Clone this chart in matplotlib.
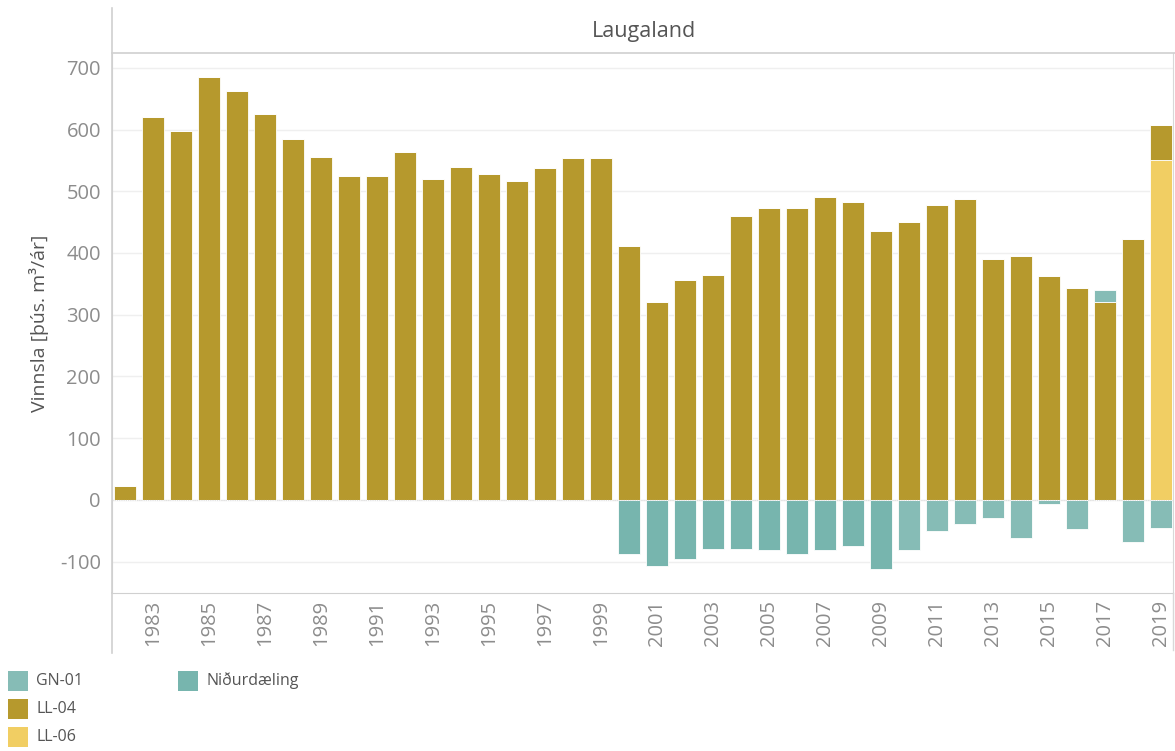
import matplotlib

matplotlib.use("Agg")
import matplotlib.pyplot as plt  # noqa: E402
import numpy as np  # noqa: E402
from matplotlib.lines import Line2D  # noqa: E402
from matplotlib.patches import Rectangle  # noqa: E402

plt.rcParams["font.family"] = ["Open Sans", "DejaVu Sans"]
plt.rcParams["axes.unicode_minus"] = False

years = list(range(1982, 2020))
ll04 = [23, 620, 598, 685, 662, 625, 584, 556, 524, 524,
        563, 520, 540, 528, 517, 538, 554, 554, 411, 320,
        356, 365, 460, 473, 473, 490, 482, 436, 450, 478,
        487, 390, 395, 362, 344, 320, 423, 57]
ll06 = [0] * 37 + [550]
gn01 = [0] * 28 + [-82, -50, -39, -29, -62, -6, -48, 20, -68, -45]
nidurdaeling = [0] * 18 + [-87, -108, -96, -80, -80, -82, -87, -82, -75, -112] + [0] * 10

C_LL04 = "#B6992D"
C_LL06 = "#F1CE63"
C_GN01 = "#86BCB6"
C_NID = "#77B5AE"
GRAY = "#8C8C8C"
DARK = "#555555"

W, H = 1175, 751
x = np.array(years)
ll04 = np.array(ll04)
ll06 = np.array(ll06)
gn01 = np.array(gn01)
nid = np.array(nidurdaeling)

fig = plt.figure(figsize=(W / 100, H / 100), dpi=100)
L, R = 112 / W, 1173 / W
B, T = (H - 593) / H, (H - 53) / H
ax = fig.add_axes([L, B, R - L, T - B])

w = 0.76
kw = dict(width=w, edgecolor="white", linewidth=0.6, zorder=3)
ax.bar(x, ll06, color=C_LL06, **kw)
ax.bar(x, ll04, bottom=ll06, color=C_LL04, **kw)
gpos = np.where(gn01 > 0, gn01, 0)
gneg = np.where(gn01 < 0, gn01, 0)
ax.bar(x, gpos, bottom=ll06 + ll04, color=C_GN01, **kw)
ax.bar(x, gneg, color=C_GN01, **kw)
ax.bar(x, nid, color=C_NID, **kw)
ax.axhline(0, color="#e0e0e0", lw=0.8, ls=(0, (1, 1)), zorder=4)

ax.set_xlim(1981.54, 2019.43)
ax.set_ylim(-151, 724)
ax.set_yticks(range(-100, 701, 100))
ax.yaxis.grid(True, color="#efefef", lw=1, zorder=0)
ax.set_xticks([y for y in years if y % 2 == 1])
ax.set_xticklabels([str(y) for y in years if y % 2 == 1], rotation=90, va="top")
ax.tick_params(axis="both", length=0, labelsize=14.5, colors=GRAY)
ax.tick_params(axis="y", pad=8)
ax.tick_params(axis="x", pad=5)
ax.spines["top"].set_visible(False)
ax.spines["left"].set_color("#d0d0d0")
ax.spines["right"].set_color("#d8d8d8")
ax.spines["bottom"].set_color("#d0d0d0")
ax.set_ylabel("Vinnsla [þús. m³/ár]", fontsize=14, color=DARK, labelpad=8)

# header band with title, and pane borders
fig.add_artist(Line2D([L, 1.0], [T, T], color="#d0d0d0", lw=1.2))
fig.add_artist(Line2D([L, L], [B, 1 - 8 / H], color="#d0d0d0", lw=1.2))
fig.add_artist(Line2D([L, L], [1 - 653 / H, B], color="#d0d0d0", lw=1.2))
fig.add_artist(Line2D([R, R], [1 - 650 / H, B], color="#d8d8d8", lw=1.0))
fig.text((L + 1.0) / 2, 1 - 32 / H, "Laugaland", ha="center", va="center",
         fontsize=15.5, color=DARK)

# legend (Tableau-style colour legend below the chart)
legend_items = [
    ("GN-01", C_GN01, 8, 681),
    ("LL-04", C_LL04, 8, 709),
    ("LL-06", C_LL06, 8, 737),
    ("Niðurdæling", C_NID, 178, 681),
]
for label, color, px, py in legend_items:
    fig.add_artist(Rectangle((px / W, 1 - (py + 10) / H), 20 / W, 20 / H,
                             facecolor=color, edgecolor="none",
                             transform=fig.transFigure))
    fig.text((px + 28) / W, 1 - py / H, label, ha="left", va="center",
             fontsize=11.5, color=DARK)

fig.savefig("out.png", dpi=100)
